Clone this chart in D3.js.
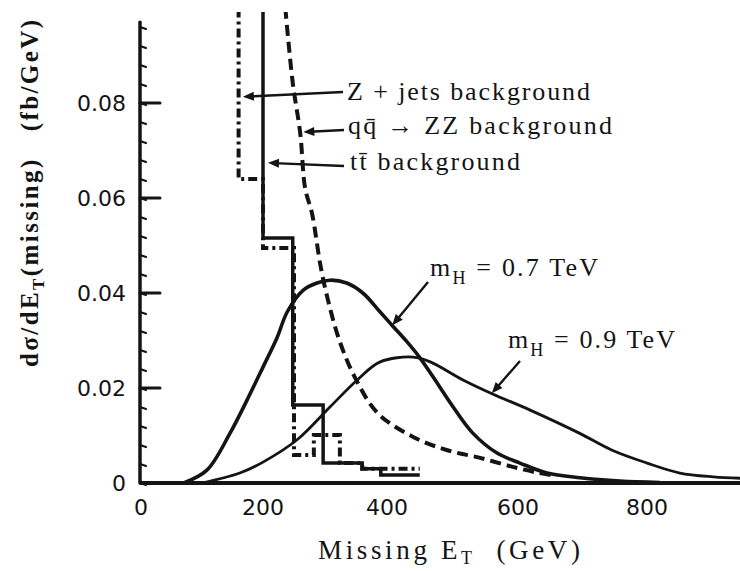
<!DOCTYPE html>
<html>
<head>
<meta charset="utf-8">
<script src="https://cdn.jsdelivr.net/npm/d3@7/dist/d3.min.js"></script>
<style>
  body { margin: 0; background: #fff; }
  svg { display: block; }
</style>
</head>
<body>
<svg id="chart" width="740" height="571"></svg>
<script>
// ---- data: missing-ET spectra (GeV, fb/GeV) ----
const xTickValues = [0, 200, 400, 600, 800];
const xTickLabels = ["0", "200", "400", "600", "800"];
const yTickValues = [0, 0.02, 0.04, 0.06, 0.08];
const yTickLabels = ["0", "0.02", "0.04", "0.06", "0.08"];

// Higgs signal, m_H = 0.7 TeV
const higgs700 = [
  [70, 0], [108, 0.0027], [146, 0.0105], [174, 0.0175], [200, 0.0244],
  [223, 0.0307], [239, 0.0360], [265, 0.0406], [287, 0.0421], [308, 0.0427],
  [335, 0.0421], [361, 0.0400], [389, 0.0360], [409, 0.0330], [430, 0.0298],
  [450, 0.0264], [470, 0.0224], [501, 0.0160], [531, 0.0105], [568, 0.0063],
  [603, 0.0042], [645, 0.0021], [696, 0.0011], [758, 0.0004], [820, 0.0001]
];
// Higgs signal, m_H = 0.9 TeV
const higgs900 = [
  [100, 0], [162, 0.0021], [200, 0.0044], [255, 0.0091], [308, 0.0160],
  [352, 0.0217], [389, 0.0255], [440, 0.0265], [466, 0.0255], [516, 0.0217],
  [562, 0.0187], [618, 0.0154], [695, 0.0105], [746, 0.0069], [800, 0.0042],
  [851, 0.0021], [903, 0.0013], [945, 0.0010]
];
// q qbar -> ZZ background
const zzBackground = [
  [236, 0.100], [248, 0.0842], [260, 0.0737], [268, 0.0620], [279, 0.0568],
  [292, 0.0463], [302, 0.0400], [323, 0.0301], [348, 0.0223], [385, 0.0147],
  [440, 0.0097], [492, 0.0069], [542, 0.0053], [592, 0.0034], [633, 0.0021],
  [660, 0.0015]
];
// Z + jets background histogram: bin lower edges and contents
const zjetsEdges  = [120, 160, 200, 250, 282, 324, 360, 450];
const zjetsValues = [0.200, 0.064, 0.0495, 0.0059, 0.0101, 0.0042, 0.0030];
// t tbar background histogram
const ttbarEdges  = [150, 200, 248, 297, 360, 390, 450];
const ttbarValues = [0.200, 0.0516, 0.0164, 0.0042, 0.0030, 0.0017];

// ---- layout ----
const svg = d3.select("#chart");
const ink = "#141414";

const x = d3.scaleLinear().domain([0, 200, 400, 600, 800]).range([141, 263, 387, 518, 647]);
const y = d3.scaleLinear().domain([0, 0.1]).range([483, 8]);

svg.append("defs").append("clipPath").attr("id", "plotClip")
  .append("rect").attr("x", 141).attr("y", 12).attr("width", 600).attr("height", 474);

const plot = svg.append("g").attr("clip-path", "url(#plotClip)");

const smooth = d3.line().x(d => x(d[0])).y(d => y(d[1])).curve(d3.curveCatmullRom.alpha(0.5));
const step = d3.line().x(d => x(d[0])).y(d => y(d[1])).curve(d3.curveStepAfter);

function histPoints(edges, values) {
  const pts = values.map((v, i) => [edges[i], v]);
  pts.push([edges[edges.length - 1], values[values.length - 1]]);
  return pts;
}

// backgrounds
plot.append("path").attr("d", step(histPoints(ttbarEdges, ttbarValues)))
  .attr("fill", "none").attr("stroke", ink).attr("stroke-width", 3.5);
plot.append("path").attr("d", step(histPoints(zjetsEdges, zjetsValues)))
  .attr("fill", "none").attr("stroke", ink).attr("stroke-width", 4)
  .attr("stroke-dasharray", "9,4,3,4");
plot.append("path").attr("d", smooth(zzBackground))
  .attr("fill", "none").attr("stroke", ink).attr("stroke-width", 4)
  .attr("stroke-dasharray", "11,6");

// signals
plot.append("path").attr("d", smooth(higgs700))
  .attr("fill", "none").attr("stroke", ink).attr("stroke-width", 3.6);
plot.append("path").attr("d", smooth(higgs900))
  .attr("fill", "none").attr("stroke", ink).attr("stroke-width", 2.8);

// ---- axes ----
const axes = svg.append("g").attr("stroke", ink).attr("stroke-linecap", "round");
axes.append("line").attr("x1", x(0)).attr("x2", 740).attr("y1", y(0)).attr("y2", y(0))
  .attr("stroke-width", 4);
axes.append("line").attr("x1", x(0) - 1).attr("x2", x(0) - 1).attr("y1", y(0)).attr("y2", y(0.097))
  .attr("stroke-width", 3.5);

const minorTicks = d3.range(0, 0.0961, 0.004);
axes.selectAll("line.minor").data(minorTicks).join("line").attr("class", "minor")
  .attr("x1", x(0) - 1).attr("x2", x(0) + 5)
  .attr("y1", d => y(d)).attr("y2", d => y(d) + 2)
  .attr("stroke-width", 2.2);
axes.selectAll("line.major").data(yTickValues.slice(1)).join("line").attr("class", "major")
  .attr("x1", x(0) - 1).attr("x2", x(0) + 19)
  .attr("y1", d => y(d)).attr("y2", d => y(d))
  .attr("stroke-width", 3);

const tickFont = "'DejaVu Sans', sans-serif";
svg.append("g").selectAll("text").data(yTickValues).join("text")
  .attr("x", 126).attr("y", d => y(d) + 8)
  .attr("text-anchor", "end").attr("font-family", tickFont).attr("font-size", 22)
  .attr("fill", ink)
  .text((d, i) => yTickLabels[i]);
svg.append("g").selectAll("text").data(xTickValues).join("text")
  .attr("x", d => x(d)).attr("y", 515)
  .attr("text-anchor", "middle").attr("font-family", tickFont).attr("font-size", 22)
  .attr("fill", ink)
  .text((d, i) => xTickLabels[i]);

// ---- titles ----
const serif = "'Liberation Serif', 'Times New Roman', serif";
const xt = svg.append("text").attr("x", 318).attr("y", 559)
  .attr("font-family", serif).attr("font-size", 27).attr("fill", ink)
  .attr("textLength", 262).attr("lengthAdjust", "spacing");
xt.append("tspan").text("Missing E");
xt.append("tspan").attr("font-size", 18).attr("dy", 5).text("T");
xt.append("tspan").attr("dy", -5).text("\u00a0\u00a0(GeV)");

const yt = svg.append("text").attr("transform", "translate(38,367) rotate(-90)")
  .attr("font-family", serif).attr("font-size", 25).attr("font-weight", "bold").attr("fill", ink)
  .attr("textLength", 347).attr("lengthAdjust", "spacing");
yt.append("tspan").text("d\u03c3/dE");
yt.append("tspan").attr("font-size", 17).attr("dy", 6).text("T");
yt.append("tspan").attr("dy", -6).text("(missing)\u00a0\u00a0\u00a0(fb/GeV)");

// ---- annotations ----
const ann = svg.append("g");
function arrow(x1, y1, x2, y2) {
  const a = Math.atan2(y2 - y1, x2 - x1), L = 11, W = 4.5;
  ann.append("line").attr("x1", x1).attr("y1", y1).attr("x2", x2 - Math.cos(a) * 6).attr("y2", y2 - Math.sin(a) * 6)
    .attr("stroke", ink).attr("stroke-width", 2.4);
  const bx = x2 - Math.cos(a) * L, by = y2 - Math.sin(a) * L;
  ann.append("path")
    .attr("d", `M${x2},${y2}L${bx - Math.sin(a) * W},${by + Math.cos(a) * W}L${bx + Math.sin(a) * W},${by - Math.cos(a) * W}Z`)
    .attr("fill", ink);
}
arrow(343, 92, x(167), y(0.0813));
arrow(344, 130, x(265), y(0.0739));
arrow(344, 166, x(208), y(0.0674));
arrow(428, 282, x(408), y(0.0332));
arrow(520, 361, x(560), y(0.0189));

function label(tx, ty, len, parts) {
  const t = ann.append("text").attr("x", tx).attr("y", ty)
    .attr("font-family", serif).attr("font-size", 26).attr("fill", ink)
    .attr("textLength", len).attr("lengthAdjust", "spacing");
  parts.forEach(p => {
    const s = t.append("tspan").text(p.t);
    if (p.sub) s.attr("font-size", 18).attr("dy", 8);
    if (p.up) s.attr("dy", -8);
  });
}
label(347, 100, 243, [{t: "Z + jets background"}]);
label(348, 134, 264, [{t: "q\u0071\u0304 \u2192 ZZ background"}]);
label(350, 170, 170, [{t: "t\u0074\u0304 background"}]);
label(430, 276, 168, [{t: "m"}, {t: "H", sub: true}, {t: " = 0.7 TeV", up: true}]);
label(508, 348, 167, [{t: "m"}, {t: "H", sub: true}, {t: " = 0.9 TeV", up: true}]);
</script>
</body>
</html>
